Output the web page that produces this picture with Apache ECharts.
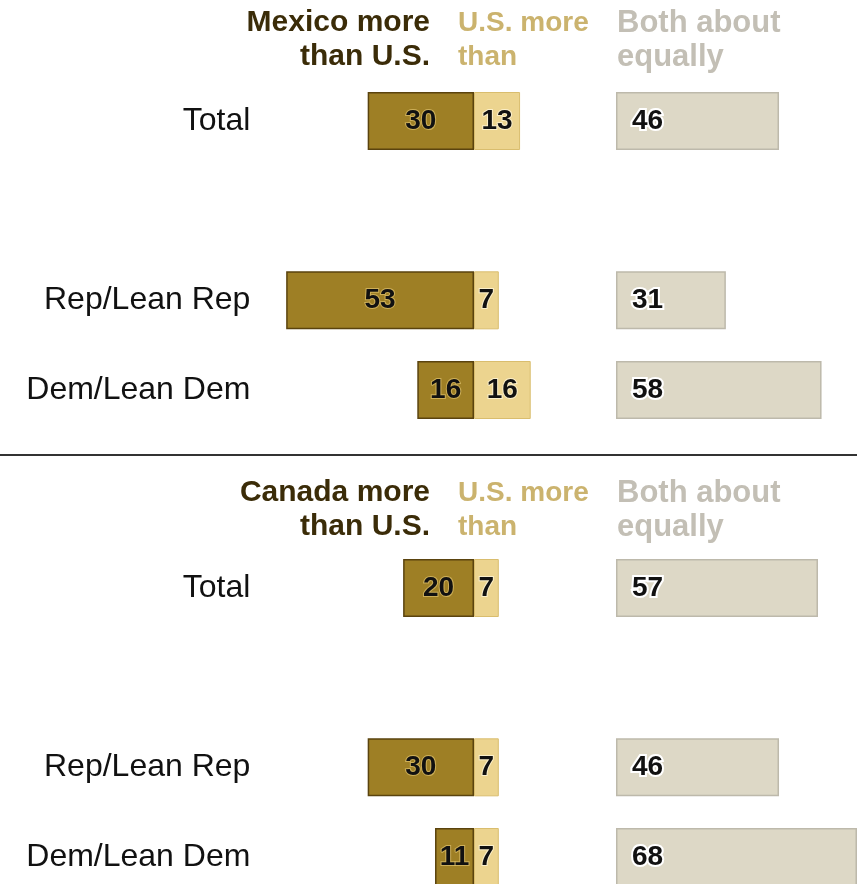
<!DOCTYPE html>
<html>
<head>
<meta charset="utf-8">
<script src="https://cdn.jsdelivr.net/npm/echarts@6/dist/echarts.min.js"></script>
<style>
  html, body { margin: 0; padding: 0; background: #ffffff; }
  #chart { width: 857px; height: 884px; }
</style>
</head>
<body>
<div id="chart"></div>
<script>
// 数据
const categories = ['Total', '', 'Rep/Lean Rep', 'Dem/Lean Dem'];

const mexicoMore = [30, null, 53, 16];
const mexicoUsMore = [13, null, 7, 16];
const mexicoBoth = [46, null, 31, 58];

const canadaMore = [20, null, 30, 11];
const canadaUsMore = [7, null, 7, 7];
const canadaBoth = [57, null, 46, 68];

const headersTop = ['Mexico more\nthan U.S.', 'U.S. more\nthan', 'Both about\nequally'];
const headersBottom = ['Canada more\nthan U.S.', 'U.S. more\nthan', 'Both about\nequally'];

// 颜色
const DARK = '#9e7f25';
const DARK_BORDER = '#5a430e';
const LIGHT = '#ecd48f';
const LIGHT_BORDER = '#d9bd6e';
const GRAY = '#ddd8c6';
const GRAY_BORDER = '#bdb9ab';
const FONT = '"Liberation Sans", Arial, sans-serif';

// 比例：每单位约 3.544 px
const UNIT = 3.544;
const ZERO_X = 474;
const GRAY_X = 616;
// 类目在刻度上（boundaryGap: false），第一行中心 = top
const PANEL_TOP = [121, 588];
const PANEL_H = 269;

const chart = echarts.init(document.getElementById('chart'));

const grids = [];
const xAxes = [];
const yAxes = [];
PANEL_TOP.forEach((top) => {
  grids.push({ left: ZERO_X - 60 * UNIT, width: 80 * UNIT, top: top, height: PANEL_H });
  grids.push({ left: GRAY_X, width: 68 * UNIT, top: top, height: PANEL_H });
});
grids.forEach((g, i) => {
  const diverging = i % 2 === 0;
  xAxes.push({
    type: 'value', gridIndex: i,
    min: diverging ? -60 : 0, max: diverging ? 20 : 68,
    show: false
  });
  yAxes.push({
    type: 'category', gridIndex: i, inverse: true, data: categories,
    boundaryGap: false,
    axisLine: { show: false }, axisTick: { show: false }, splitLine: { show: false },
    axisLabel: {
      show: diverging, color: '#111', fontSize: 32, fontFamily: FONT, margin: 11
    }
  });
});

function labelStyle(pos, halo, haloWidth, offsetX) {
  return {
    show: true, position: pos, distance: offsetX || 0,
    color: '#111', fontSize: 28, fontWeight: 'bold', fontFamily: FONT,
    textBorderColor: halo, textBorderWidth: haloWidth,
    formatter: (p) => (p.value == null ? '' : Math.abs(p.value))
  };
}

function panelSeries(more, usMore, both, axisBase) {
  return [
    {
      type: 'bar', xAxisIndex: axisBase, yAxisIndex: axisBase, stack: 'div' + axisBase,
      barWidth: 58, clip: false,
      data: more.map(v => (v == null ? null : -v)),
      itemStyle: { color: DARK, borderColor: DARK_BORDER, borderWidth: 1.5 },
      label: labelStyle('inside', 'rgba(225,195,110,0.7)', 2)
    },
    {
      type: 'bar', xAxisIndex: axisBase, yAxisIndex: axisBase, stack: 'div' + axisBase,
      barWidth: 58, clip: false,
      data: usMore,
      itemStyle: { color: LIGHT, borderColor: LIGHT_BORDER, borderWidth: 1 },
      label: labelStyle('inside', 'rgba(255,245,215,0.8)', 2)
    },
    {
      type: 'bar', xAxisIndex: axisBase + 1, yAxisIndex: axisBase + 1,
      barWidth: 58, clip: false,
      data: both,
      itemStyle: { color: GRAY, borderColor: GRAY_BORDER, borderWidth: 1.5 },
      label: labelStyle('insideLeft', '#ffffff', 4, 16)
    }
  ];
}

function headerText(text, x, y, align, fill, size) {
  return {
    type: 'text', x: x, y: y,
    style: {
      text: text, fill: fill, fontFamily: FONT, fontSize: size, fontWeight: 'bold',
      lineHeight: 34, align: align, verticalAlign: 'top'
    }
  };
}

function headerGroup(texts, y) {
  return [
    headerText(texts[0], 430, y, 'right', '#3b2c08', 30),
    headerText(texts[1], 458, y, 'left', '#cbb36e', 28),
    headerText(texts[2], 617, y, 'left', '#c3bfb5', 31)
  ];
}

const option = {
  backgroundColor: '#ffffff',
  animation: false,
  grid: grids,
  xAxis: xAxes,
  yAxis: yAxes,
  series: panelSeries(mexicoMore, mexicoUsMore, mexicoBoth, 0)
    .concat(panelSeries(canadaMore, canadaUsMore, canadaBoth, 2)),
  graphic: headerGroup(headersTop, 6)
    .concat(headerGroup(headersBottom, 476))
    .concat([{
      type: 'line',
      shape: { x1: 0, y1: 455, x2: 857, y2: 455 },
      style: { stroke: '#333333', lineWidth: 2 }
    }])
};

chart.setOption(option);

window.addEventListener('resize', () => chart.resize());
</script>
</body>
</html>
